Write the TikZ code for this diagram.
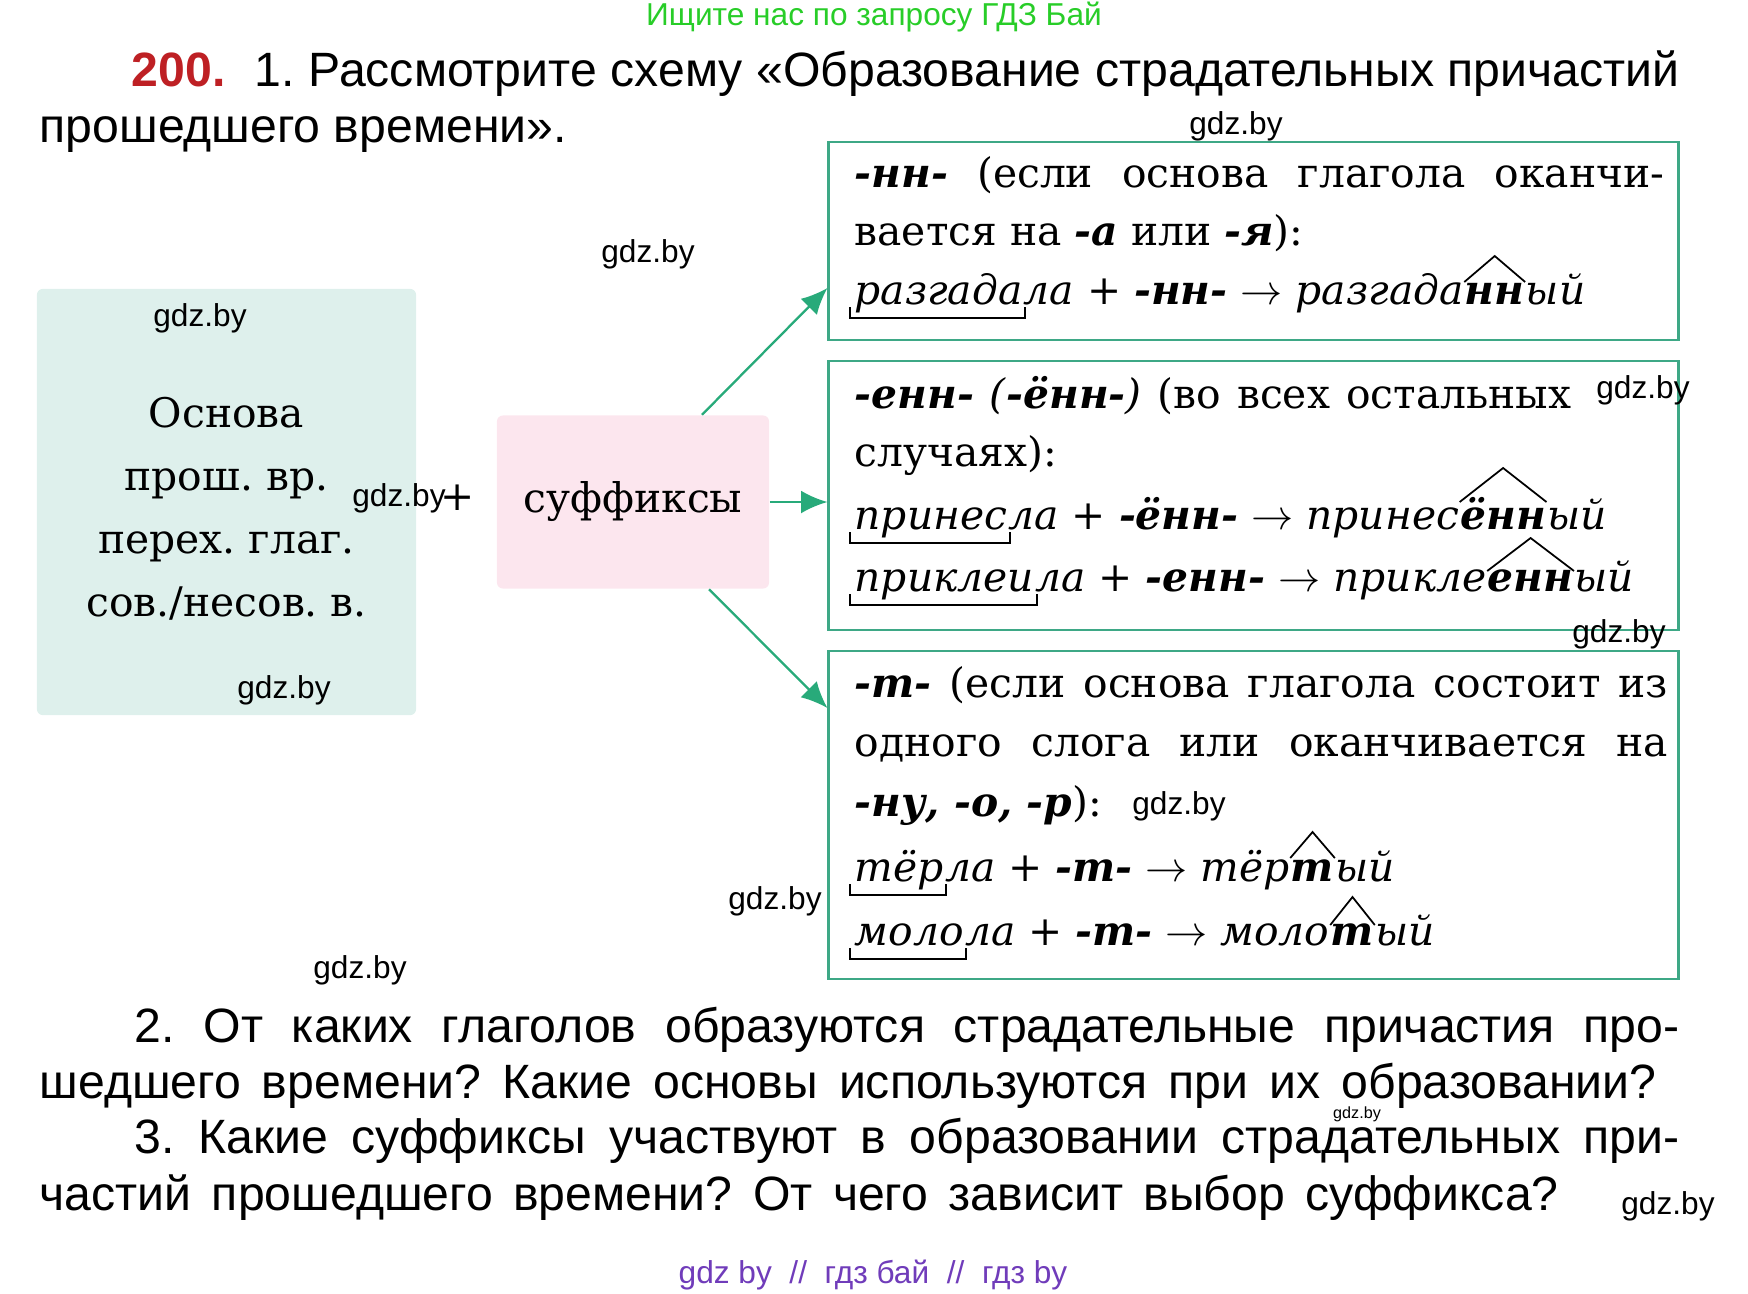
\documentclass[tikz,border=0pt]{standalone}
\usepackage{fontspec}
\setmainfont{DejaVu Serif}
\newfontfamily\grotesk{Liberation Sans}
\usetikzlibrary{arrows.meta,calc,positioning}
\frenchspacing

\definecolor{boxline}{RGB}{62,168,134}
\definecolor{arrowc}{RGB}{40,170,122}
\definecolor{osnfill}{RGB}{222,240,236}
\definecolor{suffill}{RGB}{252,230,238}
\definecolor{numred}{RGB}{190,32,36}
\definecolor{wmgreen}{RGB}{40,205,40}
\definecolor{wmviolet}{RGB}{112,60,186}

\newcommand\sx[1]{{\bfseries\itshape #1}}
\newcommand\boxfont{\fontsize{11.6}{16.5}\selectfont}
\newcommand\taskfont{\grotesk\fontsize{13.7}{16}\selectfont}
\newcommand\wmfont{\grotesk\fontsize{9}{10}\selectfont}
% bracket under the stem, roof over the suffix
\newcommand\stemmark[1]{\draw[markline] ($(#1.base west)+(-4,3)$) -- ($(#1.base west)+(-4,14)$) -- ($(#1.base east)+(2,14)$) -- ($(#1.base east)+(2,3)$);}
\newcommand\suffmark[3]{\draw[markline] ($(#1.base west)+(0,-#2)$) -- ($(#1.base)+(0,-#3)$) -- ($(#1.base east)+(0,-#2)$);}

\tikzset{
  line/.style={anchor=base west, inner sep=0pt, font=\boxfont},
  task/.style={anchor=base west, inner sep=0pt, font=\taskfont},
  wm/.style={inner sep=0pt, font=\wmfont},
  rulebox/.style={draw=boxline, line width=0.75pt, minimum width=8.49cm, inner sep=0pt},
  arr/.style={draw=arrowc, line width=0.65pt, -{Latex[length=7.5pt,width=6.5pt]}},
  markline/.style={line width=0.5pt},
}

\begin{document}
\begin{tikzpicture}[x=0.01cm,y=-0.01cm]
  \useasboundingbox (0,0) rectangle (1748,1293);
  % top and bottom marks
  \node[font=\wmfont, text=wmgreen, anchor=base, inner sep=0pt] (topmark) at (874,25) {Ищите нас по запросу ГДЗ Бай};
  \node[font=\wmfont, text=wmviolet, anchor=base, inner sep=0pt] (botmark) at (873,1283) {gdz by \ // \ гдз бай \ // \ гдз by};
  % task
  \node[task, text=numred, font=\taskfont\bfseries] (num) at (131,86) {200.};
  \node[task] (h1) at (254,86) {\makebox[14.24cm][s]{1. Рассмотрите схему «Образование страдательных причастий}};
  \node[task] (h2) at (39,142) {прошедшего времени».};
  % scheme boxes
  \node[fill=osnfill, rounded corners=0.06cm, minimum width=3.79cm, minimum height=4.26cm] (osn) at (226.5,502) {};
  \node[align=center, font=\fontsize{11.6}{17.9}\selectfont] (osntext) at (226.5,509)
        {Основа\\прош. вр.\\перех. глаг.\\сов./несов. в.};
  \node[font=\boxfont, inner sep=0pt] (plus) at (458,498) {+};
  \node[fill=suffill, rounded corners=0.06cm, minimum width=2.72cm, minimum height=1.73cm,
        font=\boxfont] (suf) at (633,502) {суффиксы};
  \node[rulebox, minimum height=1.98cm] (ba) at (1253.5,241) {};
  \node[rulebox, minimum height=2.69cm] (bb) at (1253.5,495.5) {};
  \node[rulebox, minimum height=3.28cm] (bc) at (1253.5,815) {};
  % arrows
  \draw[arr] ($(suf.north)+(69,0)$) -- ($(ba.west)+(0,47)$);
  \draw[arr] (suf.east) -- (suf.east -| bb.west);
  \draw[arr] ($(suf.south)+(76,0)$) -- ($(bc.west)+(0,-107)$);
  % -nn-
  \node[line] (a1) at (854,187) {\makebox[8.09cm][s]{\sx{-нн-} (если основа глагола оканчи-}};
  \node[line] (a2) at (854,245) {вается на \sx{-а} или \sx{-я}):};
  \node[line] (a3s) at (854,304) {\itshape разгада};
  \node[line] (a3r) at (a3s.base east) {\textit{ла} + \sx{-нн-} $\to$ \textit{разгада}};
  \node[line] (a3k) at (a3r.base east) {\sx{нн}};
  \node[line] (a3e) at (a3k.base east) {\itshape ый};
  \stemmark{a3s}
  \suffmark{a3k}{22}{48}
  % -enn-
  \node[line] (b1) at (854,408) {\makebox[7.16cm][s]{\sx{-енн-} \textit{(}\sx{-ённ-}\textit{)} (во всех остальных}};
  \node[line] (b2) at (854,466) {случаях):};
  \node[line] (b3s) at (854,529) {\itshape принес};
  \node[line] (b3r) at (b3s.base east) {\textit{ла} + \sx{-ённ-} $\to$ \textit{принес}};
  \node[line] (b3k) at (b3r.base east) {\sx{ённ}};
  \node[line] (b3e) at (b3k.base east) {\itshape ый};
  \stemmark{b3s}
  \suffmark{b3k}{27}{61}
  \node[line] (b4s) at (854,591) {\itshape приклеи};
  \node[line] (b4r) at (b4s.base east) {\textit{ла} + \sx{-енн-} $\to$ \textit{прикле}};
  \node[line] (b4k) at (b4r.base east) {\sx{енн}};
  \node[line] (b4e) at (b4k.base east) {\itshape ый};
  \stemmark{b4s}
  \suffmark{b4k}{20}{53}
  % -t-
  \node[line] (c1) at (854,697) {\makebox[8.13cm][s]{\sx{-т-} (если основа глагола состоит из}};
  \node[line] (c2) at (854,756) {\makebox[8.13cm][s]{одного слога или оканчивается на}};
  \node[line] (c3) at (854,816) {\sx{-ну, -о, -р}):};
  \node[line] (c4s) at (854,881) {\itshape тёр};
  \node[line] (c4r) at (c4s.base east) {\textit{ла} + \sx{-т-} $\to$ \textit{тёр}};
  \node[line] (c4k) at (c4r.base east) {\sx{т}};
  \node[line] (c4e) at (c4k.base east) {\itshape ый};
  \stemmark{c4s}
  \suffmark{c4k}{23}{49}
  \node[line] (c5s) at (854,945) {\itshape моло};
  \node[line] (c5r) at (c5s.base east) {\textit{ла} + \sx{-т-} $\to$ \textit{моло}};
  \node[line] (c5k) at (c5r.base east) {\sx{т}};
  \node[line] (c5e) at (c5k.base east) {\itshape ый};
  \stemmark{c5s}
  \suffmark{c5k}{20}{48}
  % questions
  \node[task] (q2a) at (134,1042) {\makebox[15.44cm][s]{2. От каких глаголов образуются страдательные причастия про-}};
  \node[task] (q2b) at (39,1098) {\makebox[16.16cm][s]{шедшего времени? Какие основы используются при их образовании?}};
  \node[task] (q3a) at (134,1153) {\makebox[15.44cm][s]{3. Какие суффиксы участвуют в образовании страдательных при-}};
  \node[task] (q3b) at (39,1210) {\makebox[15.18cm][s]{частий прошедшего времени? От чего зависит выбор суффикса?}};
  % gdz.by marks
  \foreach \wx/\wy [count=\i] in {1236/126, 648/254, 200/318, 399/498, 1643/390, 1619/634,
                                   284/690, 1179/806, 775/901, 360/970, 1668/1206}
    \node[wm] (wm\i) at (\wx,\wy) {gdz.by};
  \node[wm, font=\grotesk\fontsize{4.6}{5}\selectfont] (wmsmall) at (1357,1114) {gdz.by};
\end{tikzpicture}
\end{document}
